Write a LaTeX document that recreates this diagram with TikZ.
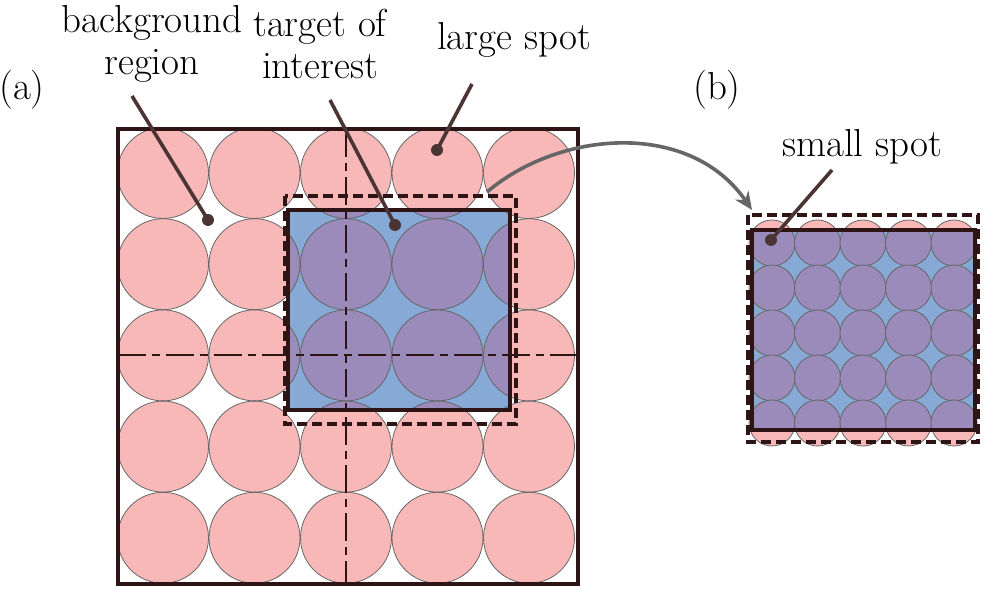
\documentclass[tikz,border=0pt]{standalone}
\usetikzlibrary{arrows.meta}
\definecolor{pinkc}{HTML}{F9B8B8}
\definecolor{bluec}{HTML}{86A9D6}
\definecolor{purc}{HTML}{9A8BBA}
\definecolor{darkc}{HTML}{2E1414}
\definecolor{ptr}{HTML}{4A3434}
\begin{document}
\begin{tikzpicture}[x=0.5pt,y=-0.5pt,
  lbl/.style={font=\fontsize{19.5}{21}\selectfont,align=center,inner sep=0pt},
  circ/.style={draw=black!60,line width=0.4pt},
  solidbox/.style={draw=darkc,line width=1.7pt},
  dashbox/.style={draw=darkc,line width=1.7pt,dash pattern=on 5pt off 2.5pt},
  axis/.style={draw=darkc,line width=0.6pt,dash pattern=on 14pt off 3pt on 4pt off 3pt},
  pointer/.style={draw=ptr,line width=1.8pt},
  dot/.style={circle,fill=ptr,inner sep=0pt,minimum size=6pt}]
\useasboundingbox (0,0) rectangle (1000,592);
% ---- (a)
\foreach \i in {0,...,4}{\foreach \j in {0,...,4}{
  \fill[pinkc] (163+91.5*\i,173+91.2*\j) circle[radius=45.5];}}
\foreach \i in {0,...,4}{\foreach \j in {0,...,4}{
  \draw[circ] (163+91.5*\i,173+91.2*\j) circle[radius=45.5];}}
\fill[bluec] (288,210) rectangle (510,410);
\begin{scope}
\clip (288,210) rectangle (510,410);
\foreach \i in {0,...,4}{\foreach \j in {0,...,4}{
  \fill[purc] (163+91.5*\i,173+91.2*\j) circle[radius=45.5];
  \draw[circ] (163+91.5*\i,173+91.2*\j) circle[radius=45.5];}}
\end{scope}
\coordinate (v1) at (346,129); \coordinate (v2) at (346,584);
\coordinate (h1) at (118,355); \coordinate (h2) at (578,355);
\draw[axis] (v1) -- (v2);
\draw[axis] (h1) -- (h2);
\draw[solidbox] (288,210) rectangle (510,410);
\draw[dashbox] (285,196) rectangle (516,424);
\draw[solidbox] (118,129) rectangle (578,584);
% ---- (b)
\foreach \i in {0,...,4}{\foreach \j in {0,...,4}{
  \fill[pinkc] (772+45.5*\i,243+45*\j) circle[radius=23];}}
\foreach \i in {0,...,4}{\foreach \j in {0,...,4}{
  \draw[circ] (772+45.5*\i,243+45*\j) circle[radius=23];}}
\fill[bluec] (752,230) rectangle (975,430);
\begin{scope}
\clip (752,230) rectangle (975,430);
\foreach \i in {0,...,4}{\foreach \j in {0,...,4}{
  \fill[purc] (772+45.5*\i,243+45*\j) circle[radius=23];
  \draw[circ] (772+45.5*\i,243+45*\j) circle[radius=23];}}
\end{scope}
\draw[solidbox] (752,230) rectangle (975,430);
\draw[dashbox] (748,215) rectangle (978,442);
% ---- labels
\node[lbl] (bg) at (152,44) {background\\region};
\node[lbl] (toi) at (320,44) {target of\\interest};
\node[lbl] (ls) at (514,40) {large spot};
\node[lbl] (ss) at (862,147) {small spot};
\node[lbl] (la) at (22,90) {(a)};
\node[lbl] (lb) at (717,90) {(b)};
\node[dot] (d1) at (208,220) {};
\node[dot] (d2) at (395,225) {};
\node[dot] (d3) at (437,150) {};
\node[dot] (d4) at (771,240) {};
\draw[pointer] (132,96) -- (d1.center);
\draw[pointer] (330,100) -- (d2.center);
\draw[pointer] (472,84) -- (d3.center);
\draw[pointer] (832,170) -- (d4.center);
\coordinate (a1) at (487,192);
\coordinate (a2) at (752,210);
\draw[draw=gray!80!black,line width=1.8pt,-{Stealth[length=9pt,width=8pt]}] (a1) .. controls (560,130) and (690,120) .. (a2);
\end{tikzpicture}
\end{document}
